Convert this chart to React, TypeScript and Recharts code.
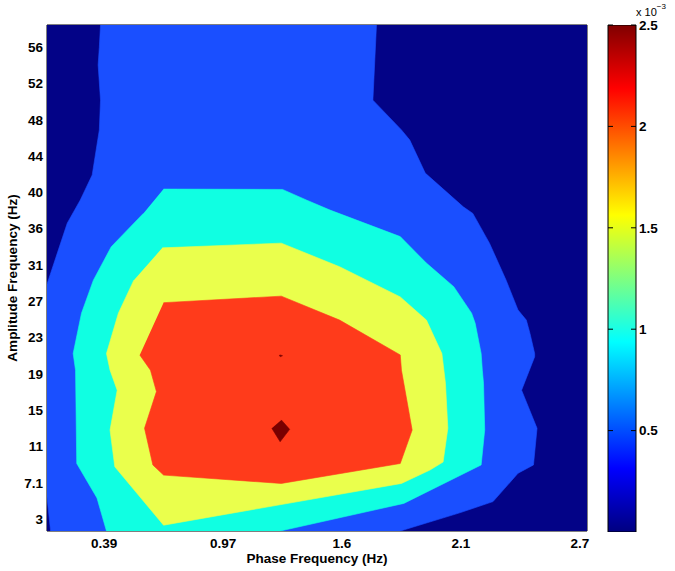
import { ScatterChart, Scatter, XAxis, YAxis, BarChart, Bar } from 'recharts';

// axes are in tick-index units: the MATLAB grid labels are not evenly spaced values
const X_DOMAIN: [number, number] = [-0.48, 4.06];
const Y_DOMAIN: [number, number] = [-0.33, 13.61];
const X_TICKS = [0, 1, 2, 3, 4];
const X_TICK_LABELS = ['0.39', '0.97', '1.6', '2.1', '2.7'];
const Y_TICKS = [0, 1, 2, 3, 4, 5, 6, 7, 8, 9, 10, 11, 12, 13];
const Y_TICK_LABELS = ['3', '7.1', '11', '15', '19', '23', '27', '31', '36', '40', '44', '48', '52', '56'];

// filled contour outlines [x, y], one per level (x 10^-3)
const LEVEL_0 = [[-0.48, -0.33], [4.06, -0.33], [4.06, 13.61], [-0.48, 13.61]];
const LEVEL_05 = [
  [-0.03, 13.61], [-0.04, 13.0], [-0.05, 12.51], [-0.03, 11.54], [-0.04, 10.72], [-0.1, 9.48],
  [-0.2, 8.79], [-0.31, 8.15], [-0.48, 6.47], [-0.48, 0.61], [-0.45, -0.33], [2.49, -0.33],
  [2.99, 0.17], [3.27, 0.48], [3.48, 1.26], [3.61, 1.49], [3.64, 2.5], [3.51, 3.55], [3.62, 4.47],
  [3.62, 4.56], [3.58, 5.12], [3.55, 5.48], [3.48, 5.76], [3.38, 6.58], [3.24, 7.6], [3.1, 8.42],
  [3.02, 8.6], [2.7, 9.53], [2.57, 10.44], [2.5, 10.72], [2.26, 11.54], [2.29, 13.61],
];
const LEVEL_1 = [
  [0.5, 9.09], [1.5, 9.08], [1.7, 8.79], [1.9, 8.51], [2.49, 7.78], [2.71, 7.05], [2.94, 6.4],
  [3.09, 5.67], [3.12, 5.39], [3.17, 4.56], [3.18, 4.1], [3.19, 3.74], [3.2, 2.45], [3.17, 1.49],
  [2.63, 0.61], [2.52, 0.43], [1.48, -0.33], [0.02, -0.33], [-0.06, 0.58], [-0.23, 1.53],
  [-0.24, 4.1], [-0.26, 4.56], [-0.19, 5.67], [-0.09, 6.58], [0.06, 7.5], [0.33, 8.42],
];
const LEVEL_15 = [
  [0.49, 7.47], [1.49, 7.6], [1.98, 6.95], [2.49, 6.12], [2.71, 5.48], [2.84, 4.56], [2.87, 3.74],
  [2.89, 2.5], [2.85, 1.57], [2.74, 1.35], [2.5, 0.98], [0.5, -0.17], [0.09, 1.44], [0.05, 2.45],
  [0.11, 3.55], [0.05, 4.1], [0.02, 4.56], [0.12, 5.67], [0.25, 6.58],
];
const LEVEL_2 = [
  [0.5, 5.96], [1.49, 6.14], [1.98, 5.48], [2.49, 4.52], [2.5, 4.1], [2.59, 2.45], [2.49, 1.53],
  [1.49, 0.98], [0.5, 1.21], [0.41, 1.49], [0.34, 2.5], [0.44, 3.51], [0.39, 4.1], [0.3, 4.52],
];
const LEVEL_25_A = [[1.49, 2.73], [1.56, 2.47], [1.48, 2.13], [1.41, 2.5]];
const LEVEL_25_B = [[1.47, 4.5], [1.48, 4.52], [1.5, 4.5], [1.48, 4.47]];

const LAYERS = [
  { name: 'l0', poly: LEVEL_0, color: '#030387' },
  { name: 'l05', poly: LEVEL_05, color: '#1a4fff' },
  { name: 'l1', poly: LEVEL_1, color: '#10ffe2' },
  { name: 'l15', poly: LEVEL_15, color: '#eaff4c' },
  { name: 'l2', poly: LEVEL_2, color: '#ff3b1b' },
  { name: 'l25a', poly: LEVEL_25_A, color: '#780000' },
  { name: 'l25b', poly: LEVEL_25_B, color: '#780000' },
];

const CBAR_TICKS = [0.5, 1, 1.5, 2, 2.5];
const CBAR_DATA = [{ name: 'scale', top: 2.5 }];
const JET_OFFSETS = [0, 0.125, 0.375, 0.625, 0.875, 1];
const JET_COLORS = ['#000080', '#0000ff', '#00ffff', '#ffff00', '#ff0000', '#800000'];

const tickFont = { fill: '#000', fontSize: 13.5, fontWeight: 700 };
const noShape = () => <g />;
const blank = () => '';

const yLabel = {
  content: ({ viewBox }: any) => {
    const cy = viewBox ? viewBox.y + viewBox.height / 2 : 278;
    return (
      <text x={17} y={cy} transform={`rotate(-90 17 ${cy})`} textAnchor="middle" {...tickFont}>
        Amplitude Frequency (Hz)
      </text>
    );
  },
};

const scaleLabel = {
  content: ({ viewBox }: any) => {
    const x = viewBox ? viewBox.x : 29;
    return (
      <text x={x} y={16} fill="#000" fontSize={11}>
        x 10<tspan dy={-7} fontSize={8}>−3</tspan>
      </text>
    );
  },
};

export default function App() {
  return (
    <div style={{ position: 'absolute', left: 0, top: 0, width: 675, height: 571, background: '#fff', fontFamily: '"Liberation Sans", Arial, sans-serif' }}>
      <svg width={0} height={0} style={{ position: 'absolute' }}>
        <defs>
          <linearGradient id="jetGradient" x1="0" y1="1" x2="0" y2="0">
            {JET_OFFSETS.map((o, i) => (
              <stop key={o} offset={o} stopColor={JET_COLORS[i]} />
            ))}
          </linearGradient>
        </defs>
      </svg>

      <div style={{ position: 'absolute', left: 0, top: 0 }}>
        <ScatterChart width={675} height={571} margin={{ top: 24, right: 87, bottom: 0, left: 0 }}>
          <XAxis
            type="number" dataKey="x" domain={X_DOMAIN} ticks={X_TICKS} allowDataOverflow
            tickFormatter={(v: number) => X_TICK_LABELS[v]} height={40} tickSize={-5} tickMargin={12}
            axisLine={{ stroke: '#000' }} tickLine={{ stroke: '#000' }} tick={tickFont}
            label={{ value: 'Phase Frequency (Hz)', position: 'insideBottom', offset: 8, ...tickFont }}
          />
          <XAxis
            xAxisId="top" orientation="top" type="number" domain={X_DOMAIN} ticks={X_TICKS} allowDataOverflow
            tickFormatter={blank} height={1} tickSize={-5} axisLine={{ stroke: '#000' }} tickLine={{ stroke: '#000' }}
          />
          <YAxis
            type="number" dataKey="y" domain={Y_DOMAIN} ticks={Y_TICKS} allowDataOverflow
            tickFormatter={(v: number) => Y_TICK_LABELS[v]} width={47} tickSize={-5} tickMargin={9}
            axisLine={{ stroke: '#000' }} tickLine={{ stroke: '#000' }} tick={tickFont} label={yLabel}
          />
          <YAxis
            yAxisId="right" orientation="right" type="number" domain={Y_DOMAIN} ticks={Y_TICKS} allowDataOverflow
            tickFormatter={blank} width={1} tickSize={-5} axisLine={{ stroke: '#000' }} tickLine={{ stroke: '#000' }}
          />
          {LAYERS.map(l => (
            <Scatter
              key={l.name}
              name={l.name}
              data={l.poly.map(([x, y]) => ({ x, y }))}
              line={{ fill: l.color, stroke: l.color, strokeWidth: 0.6 }}
              shape={noShape}
              legendType="none"
              isAnimationActive={false}
            />
          ))}
        </ScatterChart>
      </div>

      <div style={{ position: 'absolute', left: 607, top: 0 }}>
        <BarChart width={68} height={571} data={CBAR_DATA} margin={{ top: 25, right: 0, bottom: 39, left: 0 }} barCategoryGap={0}>
          <XAxis dataKey="name" hide />
          <YAxis
            yAxisId="left" type="number" domain={[0, 2.5]} ticks={CBAR_TICKS} allowDataOverflow
            width={1} tickSize={-5} tickFormatter={blank} axisLine={false} tickLine={{ stroke: '#000' }}
          />
          <YAxis
            yAxisId="right" orientation="right" type="number" domain={[0, 2.5]} ticks={CBAR_TICKS} allowDataOverflow
            width={39} tickSize={-5} tickMargin={8} axisLine={false} tickLine={{ stroke: '#000' }} tick={tickFont}
            label={scaleLabel}
          />
          <Bar yAxisId="left" dataKey="top" fill="url(#jetGradient)" stroke="#000" strokeWidth={1} isAnimationActive={false} />
        </BarChart>
      </div>
    </div>
  );
}
